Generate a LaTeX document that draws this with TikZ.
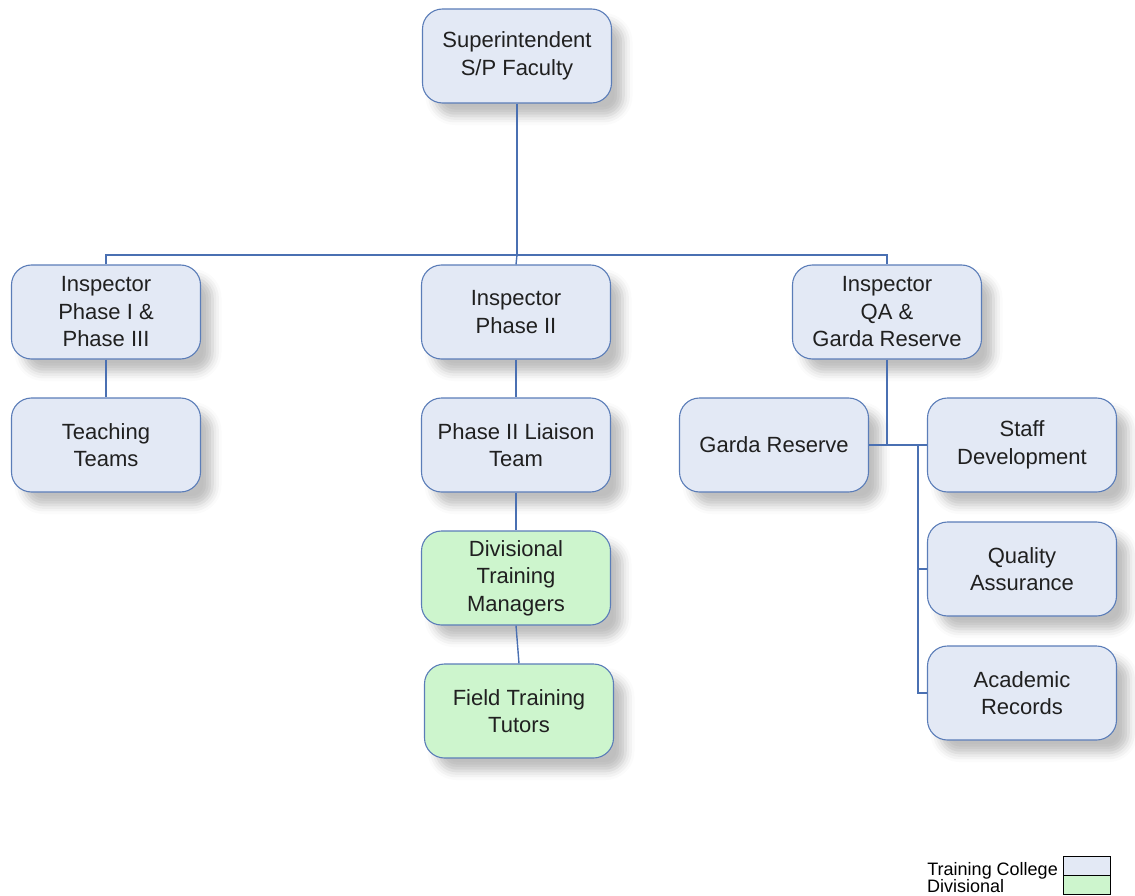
\documentclass[tikz,border=0pt]{standalone}
\usepackage{fontspec}
\setmainfont{Liberation Sans}
\usetikzlibrary{shadows.blur}
\definecolor{boxfill}{HTML}{E3E9F5}
\definecolor{divfill}{HTML}{CDF5CD}
\definecolor{boxline}{HTML}{5B7DB8}
\definecolor{linkline}{HTML}{4A70B2}
\definecolor{txt}{HTML}{202020}
\tikzset{
  unit/.style={draw=boxline, line width=1.1pt, fill=boxfill, rounded corners=20pt,
    minimum width=189pt, minimum height=94pt, align=center, text=txt,
    font=\fontsize{22}{27.5}\selectfont, inner sep=0pt,
    blur shadow={shadow xshift=12pt, shadow yshift=-13pt, shadow blur radius=9pt, shadow opacity=25}},
  divunit/.style={unit, fill=divfill},
  link/.style={draw=linkline, line width=1.4pt},
  keybox/.style={draw=black, line width=1pt, minimum width=47pt, minimum height=19pt, inner sep=0pt},
  keytext/.style={font=\fontsize{18}{18}\selectfont, inner sep=0pt, text=black}
}
\begin{document}
\begin{tikzpicture}[x=1pt, y=-1pt]
\useasboundingbox (0,0) rectangle (1135,896);
% units
\node[unit] (sup) at (517,56) {Superintendent\\S/P Faculty};
\node[unit] (insp1) at (106,312) {Inspector\\Phase I \&\\Phase III};
\node[unit] (insp2) at (516,312) {Inspector\\Phase II};
\node[unit] (insp3) at (887,312) {Inspector\\QA \&\\Garda Reserve};
\node[unit] (teach) at (106,445) {Teaching\\Teams};
\node[unit] (liaison) at (516,445) {Phase II Liaison\\Team};
\node[unit] (garda) at (774,445) {Garda Reserve};
\node[unit] (staff) at (1022,445) {Staff\\Development};
\node[divunit] (dtm) at (516,578) {Divisional\\Training\\Managers};
\node[divunit] (ftt) at (519,711) {Field Training\\Tutors};
\node[unit] (qa) at (1022,569) {Quality\\Assurance};
\node[unit] (rec) at (1022,693) {Academic\\Records};
% junction points
\coordinate (bus) at (517,255);
\coordinate (qbus) at (887,445);
\coordinate (rbus) at (918,445);
% connectors
\draw[link] (sup.south) -- (bus);
\draw[link] (insp1.north) |- (bus) -| (insp3.north);
\draw[link] (bus) -- (insp2.north);
\draw[link] (insp1.south) -- (teach.north);
\draw[link] (insp2.south) -- (liaison.north);
\draw[link] (liaison.south) -- (dtm.north);
\draw[link] (dtm.south) -- (ftt.north);
\draw[link] (insp3.south) -- (qbus);
\draw[link] (garda.east) -- (staff.west);
\draw[link] (rbus) |- (qa.west);
\draw[link] (rbus) |- (rec.west);
% key
\node[keybox, fill=boxfill] (k1) at (1086.5,865.5) {};
\node[keybox, fill=divfill] (k2) at (1086.5,884.5) {};
\node[keytext, anchor=base east] (t1) at (1058,875) {Training College};
\node[keytext, anchor=base west] (t2) at (927,892) {Divisional};
\end{tikzpicture}
\end{document}
